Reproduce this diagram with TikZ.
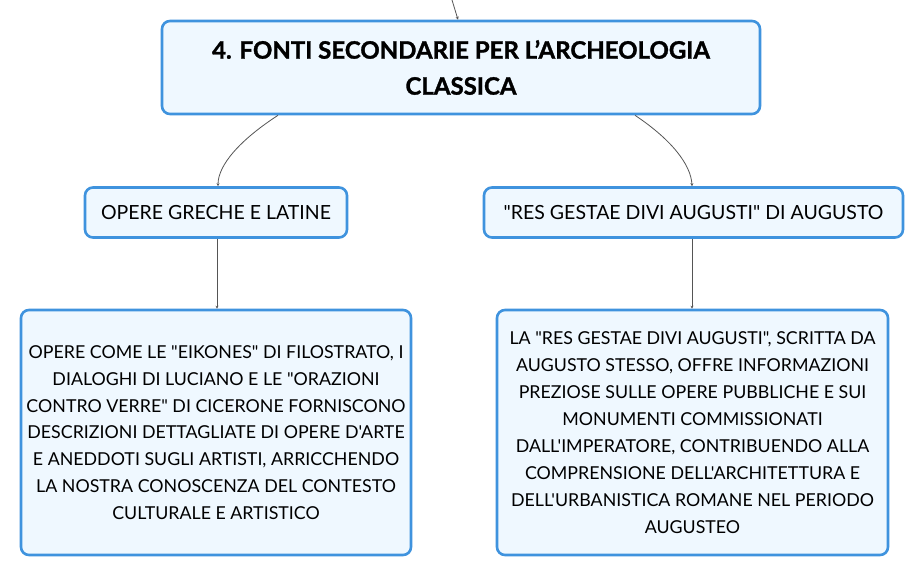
\documentclass[tikz,border=0pt]{standalone}
\usepackage{fontspec}
\setmainfont{Lato}[Ligatures=TeXOff]
\newfontfamily\titlefont{Lato}[Ligatures=TeXOff, BoldFeatures={FakeBold=1.3}]
\usetikzlibrary{arrows.meta}
\definecolor{bord}{HTML}{3F93DE}
\definecolor{boxfill}{HTML}{EFF8FF}
\definecolor{conn}{HTML}{555555}
\tikzset{
  box/.style={draw=bord, line width=2.6pt, fill=boxfill, rounded corners=8pt, align=center, inner sep=0pt, text=black},
  conline/.style={draw=conn, line width=0.8pt, -{Stealth[length=3pt,width=3pt]}},
}
\begin{document}
\begin{tikzpicture}[x=1pt,y=-1pt]
\useasboundingbox (0,0) rectangle (923,577);
\fill[white] (0,0) rectangle (923,577);
% title
\node[box, minimum width=598pt, minimum height=93pt, font=\titlefont\fontsize{24}{36}\selectfont\bfseries] (title) at (461,67.5)
  {4. FONTI SECONDARIE PER L’ARCHEOLOGIA\\CLASSICA};
\coordinate (top) at (452,0);
% children
\node[box, minimum width=262pt, minimum height=50pt, font=\fontsize{19.5}{22}\selectfont] (left) at (216,212.5) {OPERE GRECHE E LATINE};
\node[box, minimum width=419pt, minimum height=50pt, font=\fontsize{19.5}{22}\selectfont] (right) at (693.5,212.5) {"RES GESTAE DIVI AUGUSTI" DI AUGUSTO};
% leaves
\node[box, minimum width=390pt, minimum height=245pt, font=\fontsize{17.8}{26.8}\selectfont] (leftleaf) at (216,432.5)
  {OPERE COME LE "EIKONES" DI FILOSTRATO, I\\DIALOGHI DI LUCIANO E LE "ORAZIONI\\CONTRO VERRE" DI CICERONE FORNISCONO\\DESCRIZIONI DETTAGLIATE DI OPERE D'ARTE\\E ANEDDOTI SUGLI ARTISTI, ARRICCHENDO\\LA NOSTRA CONOSCENZA DEL CONTESTO\\CULTURALE E ARTISTICO};
\node[box, minimum width=391pt, minimum height=245pt, font=\fontsize{17.8}{27}\selectfont] (rightleaf) at (692.5,432.5)
  {LA "RES GESTAE DIVI AUGUSTI", SCRITTA DA\\AUGUSTO STESSO, OFFRE INFORMAZIONI\\PREZIOSE SULLE OPERE PUBBLICHE E SUI\\MONUMENTI COMMISSIONATI\\DALL'IMPERATORE, CONTRIBUENDO ALLA\\COMPRENSIONE DELL'ARCHITETTURA E\\DELL'URBANISTICA ROMANE NEL PERIODO\\AUGUSTEO};
% connectors
\draw[conline] (top) -- (title.north -| 458,0);
\draw[conline] (title.south -| 278,0) .. controls (240,140) and (218,165) .. (left.north -| 218,0);
\draw[conline] (title.south -| 635,0) .. controls (672,140) and (691,165) .. (right.north -| 692,0);
\draw[conline] (left.south -| 217,0) -- (leftleaf.north -| 217,0);
\draw[conline] (right.south -| 692,0) -- (rightleaf.north -| 692,0);
\end{tikzpicture}
\end{document}
